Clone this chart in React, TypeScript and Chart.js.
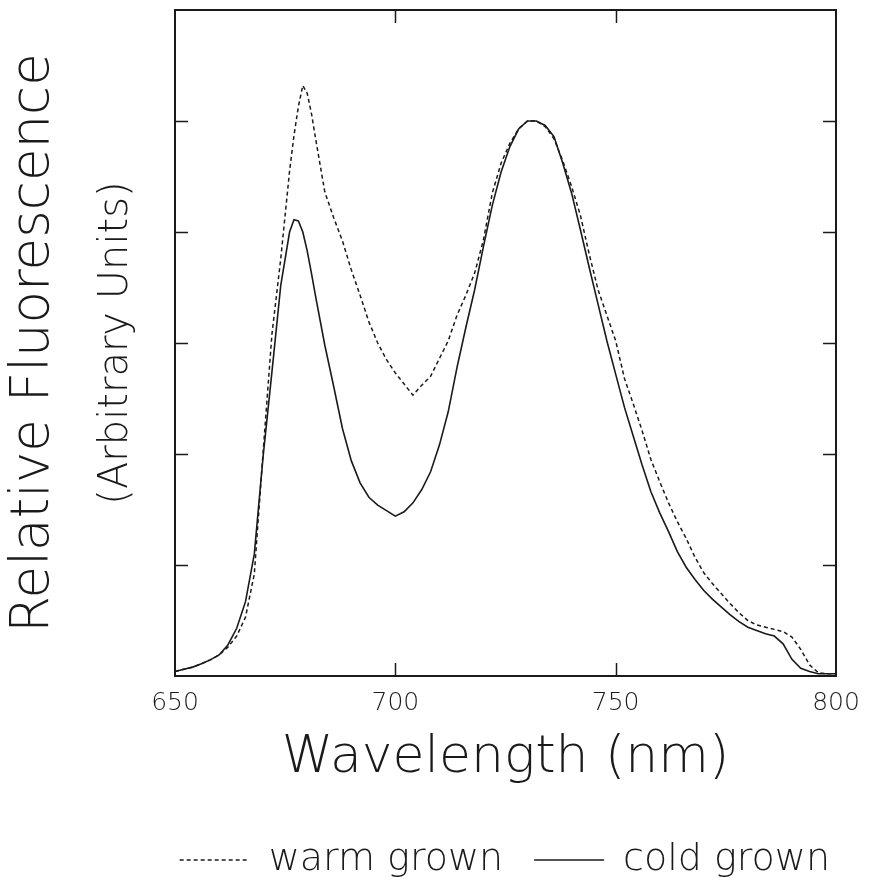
import React, { useEffect, useRef } from "react";
import { Chart, registerables } from "chart.js";

Chart.register(...registerables);

const wavelengths = [
  650, 652, 654, 656, 658, 660, 662, 664, 666, 668, 670, 672, 674,
  676, 677, 678, 679, 680, 681, 682,
  684, 686, 688, 690, 692, 694, 696, 698, 700, 702, 704, 706, 708, 710,
  712, 714, 716, 718, 720, 722, 724, 726, 728, 730, 732, 734, 736, 738,
  740, 742, 744, 746, 748, 750, 752, 754, 756, 758, 760, 762, 764, 766,
  768, 770, 772, 774, 776, 778, 780, 782, 784, 786, 788, 790, 792, 794,
  796, 798, 800,
];

const coldGrown = [
  0.04, 0.06, 0.08, 0.11, 0.145, 0.19, 0.28, 0.43, 0.67, 1.1, 1.98, 2.74, 3.52,
  4.0, 4.11, 4.1, 4.0, 3.83, 3.62, 3.4,
  2.98, 2.61, 2.23, 1.94, 1.74, 1.61, 1.54, 1.49, 1.44, 1.48, 1.56, 1.68, 1.84, 2.08,
  2.38, 2.78, 3.14, 3.48, 3.87, 4.24, 4.54, 4.77, 4.93, 5.0, 5.0, 4.96, 4.86, 4.62,
  4.35, 4.02, 3.68, 3.35, 3.02, 2.72, 2.42, 2.16, 1.9, 1.66, 1.47, 1.3, 1.12, 0.98,
  0.87, 0.77, 0.69, 0.62, 0.55, 0.49, 0.44, 0.41, 0.38, 0.36, 0.29, 0.15, 0.07, 0.04,
  0.02, 0.02, 0.02,
];

const warmGrown = [
  0.04, 0.06, 0.08, 0.11, 0.145, 0.19, 0.26, 0.36, 0.53, 0.92, 2.02, 3.08, 3.76,
  4.55, 4.87, 5.13, 5.32, 5.25, 5.06, 4.82,
  4.36, 4.13, 3.92, 3.66, 3.43, 3.19, 3.0, 2.85, 2.73, 2.63, 2.53, 2.62, 2.7, 2.86,
  3.02, 3.25, 3.43, 3.63, 3.93, 4.35, 4.62, 4.8, 4.93, 5.0, 5.0, 4.95, 4.84, 4.64,
  4.41, 4.15, 3.8, 3.48, 3.25, 3.02, 2.68, 2.45, 2.21, 1.95, 1.75, 1.56, 1.39, 1.24,
  1.07, 0.93, 0.83, 0.74, 0.65, 0.57, 0.5, 0.46, 0.44, 0.42, 0.4, 0.35, 0.24, 0.1,
  0.03, 0.02, 0.02,
];

const seriesLabels = ["warm grown", "cold grown"];
const xTitle = "Wavelength (nm)";
const yTitleOuter = "Relative Fluorescence";
const yTitleInner = "(Arbitrary Units)";

const FONT = '"DejaVu Sans", sans-serif';
const INK = "#1a1a1a";

const framePlugin = {
  id: "frameTicks",
  afterDatasetsDraw(chart: any) {
    const { ctx, chartArea } = chart;
    const { left, right, top, bottom } = chartArea;
    const x = chart.scales.x;
    const y = chart.scales.y;
    const len = 13;
    ctx.save();
    ctx.strokeStyle = INK;
    ctx.lineWidth = 2;
    ctx.setLineDash([]);
    ctx.strokeRect(left, top, right - left, bottom - top);
    ctx.beginPath();
    y.ticks.forEach((t: any) => {
      if (t.value <= y.min || t.value >= y.max) return;
      const py = Math.round(y.getPixelForValue(t.value)) + 0.5;
      ctx.moveTo(left, py);
      ctx.lineTo(left + len, py);
      ctx.moveTo(right, py);
      ctx.lineTo(right - len, py);
    });
    x.ticks.forEach((t: any) => {
      if (t.value <= x.min || t.value >= x.max) return;
      const px = Math.round(x.getPixelForValue(t.value)) + 0.5;
      ctx.moveTo(px, bottom);
      ctx.lineTo(px, bottom - len);
      ctx.moveTo(px, top);
      ctx.lineTo(px, top + len);
    });
    ctx.lineWidth = 1.5;
    ctx.stroke();
    ctx.restore();
  },
};

export default function App() {
  const canvasRef = useRef<HTMLCanvasElement | null>(null);

  useEffect(() => {
    const canvas = canvasRef.current;
    if (!canvas) return;
    const warmData = wavelengths.map((w, i) => ({ x: w, y: warmGrown[i] }));
    const coldData = wavelengths.map((w, i) => ({ x: w, y: coldGrown[i] }));

    const chart = new Chart(canvas, {
      type: "line",
      data: {
        datasets: [
          {
            label: seriesLabels[0],
            data: warmData,
            borderColor: INK,
            backgroundColor: "rgba(0,0,0,0)",
            borderWidth: 1.5,
            borderDash: [4, 3],
            pointRadius: 0,
            tension: 0,
            xAxisID: "x",
            yAxisID: "y",
          },
          {
            label: seriesLabels[1],
            data: coldData,
            borderColor: INK,
            backgroundColor: "rgba(0,0,0,0)",
            borderWidth: 1.6,
            pointRadius: 0,
            tension: 0,
            xAxisID: "x",
            yAxisID: "y",
          },
        ],
      },
      options: {
        responsive: false,
        animation: false,
        layout: { padding: { top: 10, right: 13, bottom: -8, left: 0 } },
        plugins: {
          tooltip: { enabled: false },
          legend: {
            display: true,
            position: "bottom",
            align: "end",
            labels: {
              usePointStyle: true,
              pointStyle: "line",
              pointStyleWidth: 70,
              color: INK,
              padding: 31,
              font: { family: FONT, size: 38, weight: "200" },
              generateLabels: (c: any) => {
                const items = (Chart as any).defaults.plugins.legend.labels.generateLabels(c);
                return items.map((it: any) => {
                  const ds = c.data.datasets[it.datasetIndex];
                  return {
                    ...it,
                    pointStyle: "line",
                    strokeStyle: INK,
                    fillStyle: "rgba(0,0,0,0)",
                    lineWidth: ds.borderWidth,
                    lineDash: ds.borderDash || [],
                  };
                });
              },
            },
          },
        },
        scales: {
          x: {
            type: "linear",
            position: "bottom",
            min: 650,
            max: 800,
            grid: { display: false, drawTicks: false },
            border: { display: false },
            ticks: {
              stepSize: 50,
              padding: 12,
              color: INK,
              font: { family: FONT, size: 25, weight: "200" },
            },
            title: {
              display: true,
              text: xTitle,
              color: INK,
              font: { family: FONT, size: 52, weight: "200" },
              padding: { top: 0, bottom: 20 },
            },
            afterFit: (s: any) => {
              s.height = 134;
            },
          },
          y: {
            type: "linear",
            axis: "y",
            position: "left",
            weight: 0,
            min: 0,
            max: 6,
            grid: { display: false, drawTicks: false },
            border: { display: false },
            ticks: { display: false, stepSize: 1 },
            title: {
              display: true,
              text: yTitleInner,
              color: INK,
              font: { family: FONT, size: 40, weight: "200" },
              padding: { top: 21, bottom: 0 },
            },
            afterFit: (s: any) => {
              s.width = 103;
            },
          },
          yOuter: {
            type: "linear",
            axis: "y",
            position: "left",
            weight: 1,
            min: 0,
            max: 6,
            grid: { display: false, drawTicks: false },
            border: { display: false },
            ticks: { display: false },
            title: {
              display: true,
              text: yTitleOuter,
              color: INK,
              font: { family: FONT, size: 53, weight: "200" },
              padding: { top: 2, bottom: 0 },
            },
            afterFit: (s: any) => {
              s.width = 72;
            },
          },
          yRight: {
            type: "linear",
            axis: "y",
            position: "right",
            min: 0,
            max: 6,
            grid: { display: false, drawTicks: false },
            border: { display: false },
            ticks: { display: false },
            afterFit: (s: any) => {
              s.width = 25;
            },
          },
        },
      } as any,
      plugins: [framePlugin],
    });

    return () => chart.destroy();
  }, []);

  return (
    <div style={{ position: "absolute", left: 0, top: 0, width: 874, height: 881, background: "#fff" }}>
      <canvas ref={canvasRef} width={874} height={881} style={{ display: "block" }} />
    </div>
  );
}
